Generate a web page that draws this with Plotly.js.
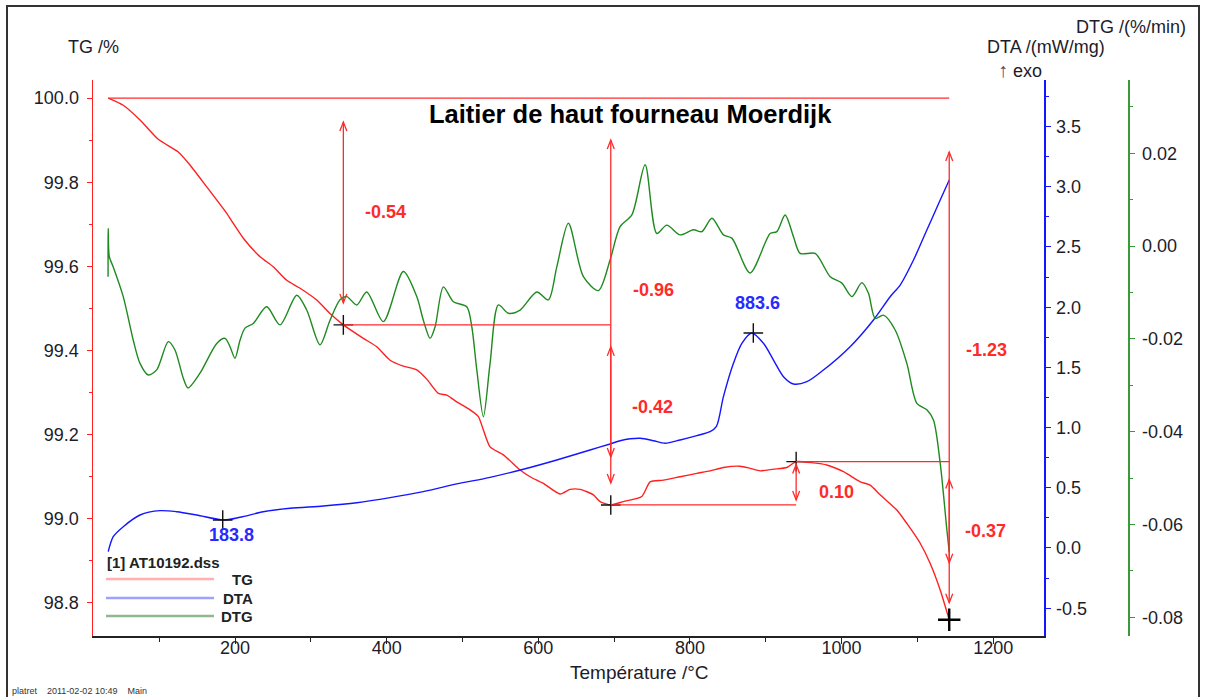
<!DOCTYPE html>
<html>
<head>
<meta charset="utf-8">
<script src="https://cdn.plot.ly/plotly-3.0.1.min.js"></script>
<style>html,body{margin:0;padding:0;background:#fff;}#chart{width:1205px;height:697px;}</style>
</head>
<body>
<div id="chart"></div>
<script>
// ---------------- DATA ----------------
const tgT = [32.8,52.6,74.7,98.8,125.2,140.6,162.7,189.1,197.8,211.0,233.0,250.5,268.2,285.8,307.8,325.3,342.9,369.3,386.9,404.5,422.0,439.7,452.9,468.2,479.3,492.5,510.0,521.0,527.6,536.4,554.0,576.0,589.2,606.7,628.8,642.0,655.1,672.7,681.5,695.6,712.3,736.5,747.5,765.0,787.1,809.1,826.6,844.2,866.2,879.4,892.6,910.2,927.8,940.1,962.9,980.6,1002.5,1024.5,1037.7,1050.9,1072.9,1086.1,1103.7,1116.9,1130.1,1142.0];
const tgVal = [100.000,99.983,99.948,99.902,99.872,99.841,99.789,99.726,99.702,99.667,99.623,99.599,99.567,99.548,99.520,99.488,99.461,99.429,99.409,99.377,99.363,99.354,99.332,99.298,99.294,99.278,99.259,99.243,99.211,99.171,99.152,99.116,99.100,99.084,99.059,99.070,99.070,99.057,99.041,99.033,99.041,99.053,99.088,99.092,99.100,99.108,99.114,99.122,99.125,99.120,99.114,99.118,99.122,99.136,99.133,99.128,99.112,99.088,99.080,99.057,99.021,98.989,98.942,98.894,98.831,98.760];

const dtaT = [32.8,39.4,52.6,74.7,101.1,123.1,149.5,184.6,206.6,237.3,272.6,316.5,360.6,404.5,448.4,492.5,536.4,580.3,624.4,668.3,694.7,707.9,734.3,751.8,767.3,787.1,809.1,826.6,835.0,844.2,857.4,868.5,881.7,897.0,910.2,923.4,936.6,954.2,976.1,1011.3,1042.1,1064.1,1077.3,1094.9,1112.5,1130.1,1142.0];
const dtaVal = [-0.03,0.094,0.177,0.274,0.310,0.301,0.274,0.233,0.255,0.301,0.330,0.349,0.376,0.418,0.468,0.532,0.587,0.654,0.731,0.814,0.864,0.891,0.911,0.891,0.870,0.897,0.933,0.966,1.010,1.257,1.534,1.700,1.786,1.700,1.561,1.423,1.362,1.381,1.478,1.672,1.894,2.087,2.184,2.392,2.641,2.890,3.056];

const dtgT = [32.6,32.8,34.2,39.4,52.6,65.8,74.7,85.6,96.7,112.0,120.8,131.8,138.0,153.8,175.9,186.8,193.4,200.0,206.6,213.2,224.1,241.8,259.4,281.4,294.6,312.1,325.3,338.5,347.4,360.6,373.7,395.6,422.0,439.7,448.4,457.3,463.9,474.8,488.0,505.7,512.3,518.9,527.6,536.4,547.4,560.6,576.0,598.0,613.3,624.4,639.7,659.5,679.3,694.7,707.9,723.4,740.9,756.3,769.5,787.1,804.7,815.8,829.0,844.2,855.3,879.4,905.8,914.6,925.6,936.6,945.4,965.2,985.0,1000.4,1013.6,1026.8,1035.5,1044.3,1055.3,1070.7,1086.1,1099.3,1112.5,1121.2,1130.1,1138.9,1142.0];
const dtgVal = [-0.0066,0.0038,-0.0023,-0.0045,-0.0109,-0.0203,-0.0253,-0.0278,-0.0267,-0.0206,-0.0224,-0.0285,-0.0306,-0.0274,-0.0210,-0.0199,-0.0217,-0.0242,-0.0203,-0.0177,-0.0167,-0.0131,-0.0170,-0.0106,-0.0138,-0.0213,-0.0160,-0.0116,-0.0109,-0.0127,-0.0099,-0.0163,-0.0055,-0.0109,-0.0160,-0.0199,-0.0174,-0.0088,-0.0120,-0.0131,-0.0174,-0.0267,-0.0368,-0.0253,-0.0127,-0.0145,-0.0138,-0.0099,-0.0116,-0.0045,0.0049,-0.0066,-0.0096,-0.0030,0.0042,0.0067,0.0175,0.0027,0.0045,0.0024,0.0035,0.0031,0.0060,0.0024,0.0017,-0.0058,0.0027,0.0031,0.0067,0.0020,-0.0016,-0.0016,-0.0066,-0.0080,-0.0109,-0.0079,-0.0102,-0.0156,-0.0149,-0.0181,-0.0253,-0.0339,-0.0353,-0.0375,-0.0468,-0.0612,-0.0660];

// TG step analysis (temperature, level)
const stepStartT = 32.8, stepStartTG = 100.00;
const stepT = [342.9, 695.6, 940.1, 1142.0];
const stepTG = [99.461, 99.033, 99.136, 98.760];
const stepLabels = ['-0.54', '-0.96', '-0.42', '0.10', '-1.23', '-0.37'];
// DTA peak markers
const dtaPeakT = [183.8, 883.6];
const dtaPeakVal = [0.233, 1.786];
const dtaPeakLabels = ['183.8', '883.6'];

// tick labels
const xTicks = [200, 400, 600, 800, 1000, 1200];
const tgTicks = [98.8, 99.0, 99.2, 99.4, 99.6, 99.8, 100.0];
const tgTickText = ['98.8', '99.0', '99.2', '99.4', '99.6', '99.8', '100.0'];
const dtaTicks = [-0.5, 0, 0.5, 1.0, 1.5, 2.0, 2.5, 3.0, 3.5];
const dtaTickText = ['-0.5', '0.0', '0.5', '1.0', '1.5', '2.0', '2.5', '3.0', '3.5'];
const dtgTicks = [-0.08, -0.06, -0.04, -0.02, 0.00, 0.02];
const dtgTickText = ['-0.08', '-0.06', '-0.04', '-0.02', '0.00', '0.02'];

// ---------------- LAYOUT GEOMETRY ----------------
const W = 1205, H = 697;
const M = {l: 93, r: 77, t: 80, b: 61};
const plotW = W - M.l - M.r, plotH = H - M.t - M.b;
const xDomEnd = (1044 - M.l) / plotW;
const xRange = [12.7, 1267];
const tgRange = [98.7215, 100.043];
const dtaRange = [-0.731, 3.887];
const dtgRange = [-0.08405, 0.03578];
const pxPerT = plotW * xDomEnd / (xRange[1] - xRange[0]);
const pxPerTG = plotH / (tgRange[1] - tgRange[0]);
const px = v => (v - M.l) / plotW;          // page px -> paper x
const py = v => (H - M.b - v) / plotH;      // page px -> paper y

const FONT = 'Liberation Sans, Arial, sans-serif';
const RED = '#ff2a2a', BLUE = '#1515ff', GREEN = '#1f8a1f';
const TXT = '#1c1c2a';

// ---------------- TRACES ----------------
const traces = [
  {x: tgT, y: tgVal, type: 'scatter', mode: 'lines', yaxis: 'y', line: {color: '#ff2020', width: 1.4, shape: 'spline', smoothing: 0.6}, hoverinfo: 'skip'},
  {x: dtaT, y: dtaVal, type: 'scatter', mode: 'lines', yaxis: 'y2', line: {color: BLUE, width: 1.4, shape: 'spline', smoothing: 0.8}, hoverinfo: 'skip'},
  {x: dtgT, y: dtgVal, type: 'scatter', mode: 'lines', yaxis: 'y3', line: {color: GREEN, width: 1.4, shape: 'spline', smoothing: 0.8}, hoverinfo: 'skip'},
  {x: stepT.slice(0, 3), y: stepTG.slice(0, 3), type: 'scatter', mode: 'markers', yaxis: 'y',
   marker: {symbol: 'cross-thin', size: 14, line: {width: 1.4, color: '#111'}}, hoverinfo: 'skip'},
  {x: [stepT[3]], y: [stepTG[3]], type: 'scatter', mode: 'markers', yaxis: 'y',
   marker: {symbol: 'cross-thin', size: 16, line: {width: 2.4, color: '#000'}}, hoverinfo: 'skip'},
  {x: dtaPeakT, y: dtaPeakVal, type: 'scatter', mode: 'markers', yaxis: 'y2',
   marker: {symbol: 'cross-thin', size: 14, line: {width: 1.4, color: '#111'}}, hoverinfo: 'skip'}
];

// ---------------- RED STEP CONSTRUCTION ----------------
const shapes = [];
const redLine = {color: RED, width: 1.3};
function hline(x0, x1, y) {
  shapes.push({type: 'line', xref: 'x', yref: 'y', x0, x1, y0: y, y1: y, line: redLine});
}
function arrow(x, yTop, yBot, insetTop, insetBot) {
  const a = yTop - insetTop / pxPerTG;
  const b = yBot + insetBot / pxPerTG;
  shapes.push({type: 'line', xref: 'x', yref: 'y', x0: x, x1: x, y0: a, y1: b, line: redLine});
  const hw = 3.5 / pxPerT, hl = 9 / pxPerTG;
  shapes.push({type: 'path', xref: 'x', yref: 'y', line: redLine,
    path: `M${x - hw},${a - hl} L${x},${a} L${x + hw},${a - hl}`});
  shapes.push({type: 'path', xref: 'x', yref: 'y', line: redLine,
    path: `M${x - hw},${b + hl} L${x},${b} L${x + hw},${b + hl}`});
}
hline(stepStartT, stepT[3], stepStartTG);
hline(stepT[0], stepT[1], stepTG[0]);
hline(stepT[1], stepT[2], stepTG[1]);
hline(stepT[2], stepT[3], stepTG[2]);
arrow(stepT[0], stepStartTG, stepTG[0], 24, 22);
arrow(stepT[1], stepStartTG, stepTG[1], 42, 22);
arrow(stepT[1], stepTG[0], stepTG[1], 22, 48);
arrow(stepT[2], stepTG[2], stepTG[1], 3, 5);
arrow(stepT[3], stepStartTG, stepTG[3], 54, 17);
arrow(stepT[3], stepTG[2], stepTG[3], 18, 57);

// frame around the whole picture
shapes.push({type: 'rect', xref: 'paper', yref: 'paper', x0: px(7), x1: px(1199), y0: py(6), y1: py(705),
  line: {color: '#333', width: 2}, layer: 'below'});
// legend sample lines
const legendCols = ['#ffb0b0', '#a0a0ff', '#90b890'];
const legendNames = ['TG', 'DTA', 'DTG'];
const legendY = [579, 598, 616];
legendNames.forEach((n, i) => {
  shapes.push({type: 'line', xref: 'paper', yref: 'paper', x0: px(106), x1: px(214), y0: py(legendY[i]), y1: py(legendY[i]),
    line: {color: legendCols[i], width: 2.6}});
});

// ---------------- ANNOTATIONS ----------------
const ann = [];
function note(o) { ann.push(Object.assign({showarrow: false, xanchor: 'center', yanchor: 'middle'}, o)); }
const redFont = {family: FONT, size: 18, color: RED};
const stepLabelPos = [[399, 99.729], [752, 99.544], [750, 99.266], [993, 99.064], [1191, 99.401], [1190, 98.971]];
stepLabels.forEach((t, i) => note({x: stepLabelPos[i][0], y: stepLabelPos[i][1], xref: 'x', yref: 'y', text: '<b>' + t + '</b>', font: redFont}));
const peakLabelPos = [[196, 0.108], [889, 2.035]];
dtaPeakLabels.forEach((t, i) => note({x: peakLabelPos[i][0], y: peakLabelPos[i][1], xref: 'x', yref: 'y2', text: '<b>' + t + '</b>', font: {family: FONT, size: 18, color: '#2a2aff'}}));
note({x: px(630), y: py(114), xref: 'paper', yref: 'paper', text: '<b>Laitier de haut fourneau Moerdijk</b>', font: {family: FONT, size: 25.5, color: '#000'}});
note({x: px(66), y: py(47), xref: 'paper', yref: 'paper', xanchor: 'left', text: 'TG /%', font: {family: FONT, size: 18, color: TXT}});
note({x: px(1107), y: py(47), xref: 'paper', yref: 'paper', xanchor: 'right', text: 'DTA /(mW/mg)', font: {family: FONT, size: 18, color: TXT}});
note({x: px(1044), y: py(70), xref: 'paper', yref: 'paper', xanchor: 'right', text: '<span style="color:#6a3a6a;font-size:20px">\u2191</span> exo', font: {family: FONT, size: 18, color: TXT}});
note({x: px(1188), y: py(27), xref: 'paper', yref: 'paper', xanchor: 'right', text: 'DTG /(%/min)', font: {family: FONT, size: 18, color: TXT}});
note({x: px(639), y: py(672), xref: 'paper', yref: 'paper', text: 'Température /°C', font: {family: FONT, size: 19, color: TXT}});
note({x: px(105), y: py(562), xref: 'paper', yref: 'paper', xanchor: 'left', text: '<b>[1] AT10192.dss</b>', font: {family: FONT, size: 15, color: '#222'}});
legendNames.forEach((n, i) => note({x: px(255), y: py(legendY[i]), xref: 'paper', yref: 'paper', xanchor: 'right', text: '<b>' + n + '</b>', font: {family: FONT, size: 15, color: '#222'}}));
note({x: px(10), y: py(691), xref: 'paper', yref: 'paper', xanchor: 'left', text: 'platret\u00a0\u00a0\u00a0\u00a02011-02-02 10:49\u00a0\u00a0\u00a0\u00a0Main', font: {family: FONT, size: 9, color: '#333'}});

// ---------------- AXES ----------------
const tickFont = {family: FONT, size: 18, color: TXT};
const layout = {
  width: W, height: H,
  margin: M,
  paper_bgcolor: '#fff', plot_bgcolor: '#fff',
  showlegend: false,
  font: {family: FONT},
  xaxis: {
    domain: [0, xDomEnd], range: xRange, showgrid: false, zeroline: false,
    showline: true, linecolor: '#222', linewidth: 1.5,
    tickmode: 'array', tickvals: xTicks, ticktext: xTicks.map(String),
    ticks: 'outside', ticklen: 6, tickcolor: '#222', tickwidth: 1,
    minor: {dtick: 100, tick0: 0, ticks: 'outside', ticklen: 4, tickcolor: '#222'},
    tickfont: tickFont, ticklabelstandoff: -11
  },
  yaxis: {
    range: tgRange, showgrid: false, zeroline: false,
    showline: true, linecolor: '#ff2020', linewidth: 1.5,
    tickmode: 'array', tickvals: tgTicks, ticktext: tgTickText,
    ticks: 'outside', ticklen: 5, tickcolor: '#ff2020',
    minor: {dtick: 0.1, tick0: 0, ticks: 'outside', ticklen: 3, tickcolor: '#ff2020'},
    tickfont: tickFont, ticklabelstandoff: 4
  },
  yaxis2: {
    range: dtaRange, overlaying: 'y', side: 'right', anchor: 'x',
    showgrid: false, zeroline: false, showline: true, linecolor: BLUE, linewidth: 1.5,
    tickmode: 'array', tickvals: dtaTicks, ticktext: dtaTickText,
    ticks: 'outside', ticklen: 5, tickcolor: BLUE,
    minor: {dtick: 0.25, tick0: 0, ticks: 'outside', ticklen: 3, tickcolor: BLUE},
    tickfont: tickFont, ticklabelstandoff: 2
  },
  yaxis3: {
    range: dtgRange, overlaying: 'y', side: 'right', anchor: 'free', position: 1,
    showgrid: false, zeroline: false, showline: true, linecolor: '#3a9a3a', linewidth: 1.5,
    tickmode: 'array', tickvals: dtgTicks, ticktext: dtgTickText,
    ticks: 'outside', ticklen: 5, tickcolor: '#3a9a3a',
    minor: {dtick: 0.01, tick0: 0, ticks: 'outside', ticklen: 3, tickcolor: '#3a9a3a'},
    tickfont: tickFont, ticklabelstandoff: 4
  },
  shapes: shapes,
  annotations: ann
};

Plotly.newPlot('chart', traces, layout, {staticPlot: true, displayModeBar: false});
</script>
</body>
</html>
